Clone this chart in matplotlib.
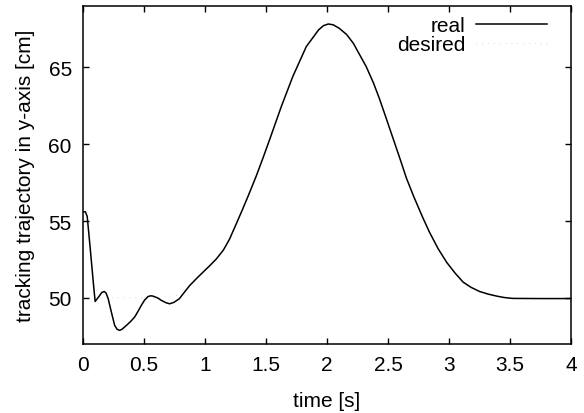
import matplotlib
matplotlib.use("Agg")
import matplotlib.pyplot as plt

plt.rcParams['font.family'] = ['Liberation Sans', 'DejaVu Sans']

# real trajectory (time [s], y [cm])
t_real = [0.0, 0.02, 0.035, 0.06, 0.085, 0.10, 0.118, 0.137, 0.155, 0.175, 0.19,
          0.207, 0.233, 0.26, 0.28, 0.30, 0.32, 0.356, 0.39, 0.424, 0.45, 0.478,
          0.505, 0.533, 0.555, 0.574, 0.61, 0.643, 0.68, 0.71, 0.745, 0.79, 0.83,
          0.875, 0.93, 0.984, 1.04, 1.093, 1.15, 1.20, 1.25, 1.31, 1.36, 1.42,
          1.475, 1.53, 1.626, 1.72, 1.83, 1.93, 1.97, 2.01, 2.05, 2.10, 2.16,
          2.215, 2.32, 2.38, 2.43, 2.48, 2.54, 2.60, 2.65, 2.71, 2.78, 2.84, 2.91,
          2.98, 3.05, 3.115, 3.18, 3.25, 3.32, 3.39, 3.45, 3.52, 3.75, 4.0]
y_real = [55.6, 55.6, 55.3, 53.2, 51.0, 49.76, 49.95, 50.15, 50.35, 50.41, 50.3,
          49.94, 49.07, 48.2, 47.95, 47.88, 47.95, 48.2, 48.45, 48.75, 49.1, 49.5,
          49.85, 50.08, 50.13, 50.11, 50.0, 49.83, 49.68, 49.61, 49.7, 49.94, 50.35,
          50.8, 51.25, 51.67, 52.1, 52.53, 53.1, 53.8, 54.7, 55.8, 56.75, 57.93,
          59.1, 60.31, 62.47, 64.42, 66.36, 67.44, 67.72, 67.83, 67.78, 67.55, 67.15,
          66.58, 65.07, 64.0, 62.95, 61.8, 60.4, 59.0, 57.8, 56.6, 55.3, 54.26, 53.2,
          52.31, 51.6, 51.02, 50.68, 50.41, 50.24, 50.11, 50.02, 49.96, 49.95, 49.95]

# desired trajectory (mostly hidden under the real one)
t_des = [0.0, 0.3, 0.6, 0.8, 0.875, 0.93, 0.984, 1.04, 1.093, 1.15, 1.20, 1.25,
         1.31, 1.36, 1.42, 1.475, 1.53, 1.626, 1.72, 1.83, 1.93, 1.97, 2.01, 2.05,
         2.10, 2.16, 2.215, 2.32, 2.38, 2.43, 2.48, 2.54, 2.60, 2.65, 2.71, 2.78,
         2.84, 2.91, 2.98, 3.05, 3.115, 3.18, 3.25, 3.32, 3.39, 3.45, 3.52, 3.75, 4.0]
y_des = [50.0, 50.0, 50.0, 50.2, 50.8, 51.25, 51.67, 52.1, 52.53, 53.1, 53.8, 54.7,
         55.8, 56.75, 57.93, 59.1, 60.31, 62.47, 64.42, 66.36, 67.44, 67.72, 67.83, 67.78,
         67.55, 67.15, 66.58, 65.07, 64.0, 62.95, 61.8, 60.4, 59.0, 57.8, 56.6, 55.3,
         54.26, 53.2, 52.31, 51.6, 51.02, 50.68, 50.41, 50.24, 50.11, 50.02, 49.96, 49.95, 49.95]

xticks = [0, 0.5, 1, 1.5, 2, 2.5, 3, 3.5, 4]
xticklabels = ['0', '0.5', '1', '1.5', '2', '2.5', '3', '3.5', '4']
yticks = [50, 55, 60, 65]

fig = plt.figure(figsize=(5.84, 4.14), dpi=100)
ax = fig.add_axes([0.142, 0.167, 0.836, 0.816])

ax.plot(t_des, y_des, color='#cccccc', lw=0.6, linestyle=(0, (1, 6)), label='desired')
ax.plot(t_real, y_real, color='black', lw=1.1, label='real')

ax.set_xlim(0, 4)
ax.set_ylim(47, 69)
ax.set_xticks(xticks)
ax.set_xticklabels(xticklabels)
ax.set_yticks(yticks)
ax.tick_params(direction='in', top=True, right=True, length=4, width=1,
               labelsize=15, pad=8)
for s in ax.spines.values():
    s.set_linewidth(1.1)

ax.set_xlabel('time [s]', fontsize=15, labelpad=12)
ax.set_ylabel('tracking trajectory in y-axis [cm]', fontsize=15, labelpad=10)

h, l = ax.get_legend_handles_labels()
ax.legend(h[::-1], l[::-1], loc='upper right', bbox_to_anchor=(0.972, 1.0),
          frameon=False, markerfirst=False, fontsize=15, handlelength=3.4,
          labelspacing=0.0, borderaxespad=0.1, handletextpad=0.5)

fig.savefig('out.png', dpi=100)
